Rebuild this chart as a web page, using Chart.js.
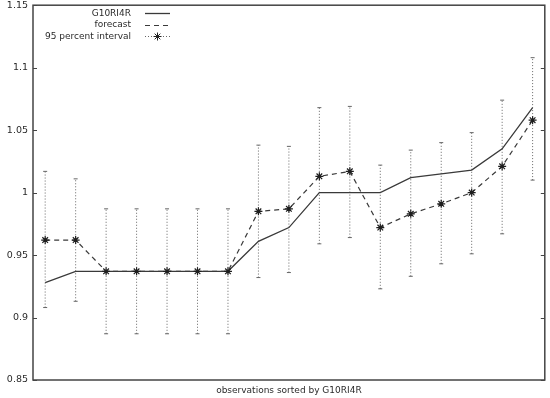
<!DOCTYPE html>
<html>
<head>
<meta charset="utf-8">
<script src="https://cdn.jsdelivr.net/npm/chart.js@4/dist/chart.umd.min.js"></script>
<style>
  html, body { margin: 0; padding: 0; background: #fff; }
  #wrap { width: 550px; height: 398px; }
</style>
</head>
<body>
<div id="wrap"><canvas id="chart" width="550" height="398"></canvas></div>
<script>
'use strict';

// observations (sorted), values
const obsIndex = [1, 2, 3, 4, 5, 6, 7, 8, 9, 10, 11, 12, 13, 14, 15, 16, 17];
const actualValues   = [0.928, 0.937, 0.937, 0.937, 0.937, 0.937, 0.937, 0.961, 0.972, 1.000, 1.000, 1.000, 1.012, 1.015, 1.018, 1.035, 1.068];
const forecastValues = [0.962, 0.962, 0.937, 0.937, 0.937, 0.937, 0.937, 0.985, 0.987, 1.013, 1.017, 0.972, 0.983, 0.991, 1.000, 1.021, 1.058];
const upperValues    = [1.017, 1.011, 0.987, 0.987, 0.987, 0.987, 0.987, 1.038, 1.037, 1.068, 1.069, 1.022, 1.034, 1.040, 1.048, 1.074, 1.108];
const lowerValues    = [0.908, 0.913, 0.887, 0.887, 0.887, 0.887, 0.887, 0.932, 0.936, 0.959, 0.964, 0.923, 0.933, 0.943, 0.951, 0.967, 1.010];
const yTickValues = [0.85, 0.9, 0.95, 1, 1.05, 1.1, 1.15];
const seriesLabels = ['G10RI4R', 'forecast', '95 percent interval'];
const xTitle = 'observations sorted by G10RI4R';

const FONT = '"DejaVu Sans", Verdana, sans-serif';
const INK = '#2a2a2a';

// interval segments: lower -> upper, broken by a gap
const intervalData = [];
obsIndex.forEach((x, i) => {
    intervalData.push({ x: x, y: lowerValues[i] });
    intervalData.push({ x: x, y: upperValues[i] });
    intervalData.push({ x: x, y: null });
});

// frame, inner ticks and the gnuplot-style legend
const framePlugin = {
    id: 'framePlugin',
    afterDatasetsDraw(chart) {
        const ctx = chart.ctx;
        const a = chart.chartArea;
        const ys = chart.scales.y;
        ctx.save();
        ctx.strokeStyle = '#444';
        ctx.lineWidth = 1.5;
        ctx.setLineDash([]);
        ctx.strokeRect(a.left, a.top, a.right - a.left, a.bottom - a.top);

        ctx.lineWidth = 1;
        ys.ticks.forEach(t => {
            const py = Math.round(ys.getPixelForValue(t.value)) + 0.5;
            ctx.beginPath();
            ctx.moveTo(a.left, py); ctx.lineTo(a.left + 4, py);
            ctx.moveTo(a.right - 4, py); ctx.lineTo(a.right, py);
            ctx.stroke();
        });

        // legend
        ctx.font = '9px ' + FONT;
        ctx.textAlign = 'right';
        ctx.textBaseline = 'middle';
        const textRight = a.left + 98;
        const x0 = a.left + 112, x1 = a.left + 137;
        chart.data.datasets.forEach((ds, i) => {
            const y = a.top + 8 + i * 11.5;
            ctx.fillStyle = INK;
            ctx.fillText(ds.label, textRight, y);
            ctx.strokeStyle = ds.borderColor;
            ctx.lineWidth = ds.borderWidth;
            ctx.setLineDash(ds.borderDash || []);
            ctx.beginPath();
            ctx.moveTo(x0, Math.round(y) + 0.5);
            ctx.lineTo(x1, Math.round(y) + 0.5);
            ctx.stroke();
            if (i === 2) {
                ctx.setLineDash([]);
                ctx.strokeStyle = '#222';
                Chart.helpers.drawPoint(ctx, { pointStyle: 'star', radius: 4, rotation: 0, borderWidth: 1 }, (x0 + x1) / 2, Math.round(y) + 0.5);
            }
        });
        ctx.restore();
    }
};

new Chart(document.getElementById('chart').getContext('2d'), {
    type: 'line',
    data: {
        datasets: [
            {
                label: seriesLabels[0],
                data: obsIndex.map((x, i) => ({ x: x, y: actualValues[i] })),
                borderColor: '#3a3a3a',
                borderWidth: 1.3,
                pointRadius: 0,
                order: 1
            },
            {
                label: seriesLabels[1],
                data: obsIndex.map((x, i) => ({ x: x, y: forecastValues[i] })),
                borderColor: '#3a3a3a',
                borderWidth: 1.2,
                borderDash: [5, 4],
                pointStyle: 'star',
                pointRadius: 4,
                pointBorderColor: '#1e1e1e',
                pointBorderWidth: 1.2,
                order: 0
            },
            {
                label: seriesLabels[2],
                data: intervalData,
                borderColor: '#666',
                borderWidth: 1,
                borderDash: [1, 2],
                spanGaps: false,
                pointStyle: 'line',
                pointRadius: 2,
                pointBorderColor: '#666',
                pointBorderWidth: 1,
                order: 2
            }
        ]
    },
    options: {
        responsive: false,
        animation: false,
        layout: { padding: { top: 5, right: 4, left: 0, bottom: 0 } },
        plugins: {
            legend: { display: false },
            tooltip: { enabled: false }
        },
        scales: {
            x: {
                type: 'linear',
                min: 0.6,
                max: 17.4,
                grid: { display: false, drawTicks: false },
                border: { display: false },
                ticks: { display: false },
                title: {
                    display: true,
                    text: xTitle,
                    color: INK,
                    font: { family: FONT, size: 9 },
                    padding: { top: 0, bottom: 2 }
                },
                afterFit(scale) { scale.height = 18; }
            },
            y: {
                min: 0.85,
                max: 1.15,
                grid: { display: false, drawTicks: false },
                border: { display: false },
                afterBuildTicks(scale) {
                    scale.ticks = yTickValues.map(v => ({ value: v }));
                },
                ticks: {
                    color: INK,
                    font: { family: FONT, size: 9.5 },
                    padding: 5,
                    callback: v => String(Number(v.toFixed(2)))
                },
                afterFit(scale) {
                    scale.width = 33;
                    scale.paddingTop = 0;
                    scale.paddingBottom = 0;
                }
            }
        }
    },
    plugins: [framePlugin]
});
</script>
</body>
</html>
